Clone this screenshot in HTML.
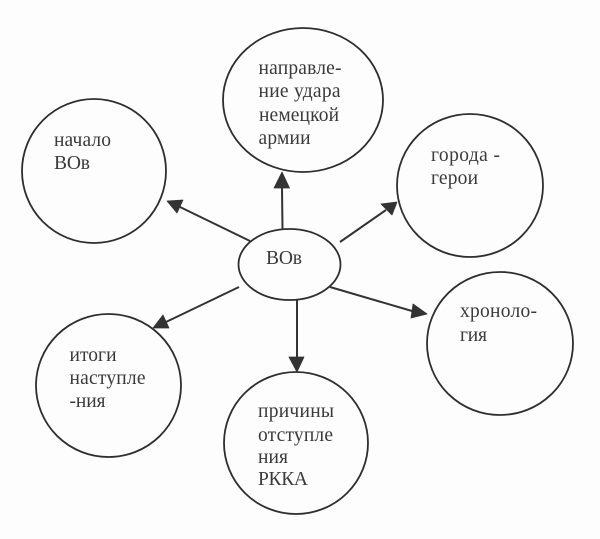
<!DOCTYPE html>
<html lang="ru">
<head>
<meta charset="utf-8">
<title>ВОв</title>
<style>
html,body{margin:0;padding:0;background:#fdfdfd;width:600px;height:539px;overflow:hidden}
svg{display:block;filter:blur(.35px)}
text{font-family:"Liberation Serif","Noto Serif CJK SC",serif;font-size:19.5px;fill:#3a3a3a}
ellipse{fill:none;stroke:#2e2e2e;stroke-width:1.8}
line{stroke:#333;stroke-width:2}
polygon{fill:#333;stroke:#333;stroke-width:.8;stroke-linejoin:round}
</style>
</head>
<body>
<svg width="600" height="539" viewBox="0 0 600 539" xmlns="http://www.w3.org/2000/svg">
<rect width="600" height="539" fill="#fdfdfd"/>
<ellipse cx="303" cy="100" rx="80" ry="72"/>
<ellipse cx="94" cy="171" rx="72" ry="72"/>
<ellipse cx="470" cy="185.5" rx="73" ry="71.5"/>
<ellipse cx="500" cy="343.5" rx="73" ry="71.5"/>
<ellipse cx="108.5" cy="385.5" rx="72.5" ry="71.5"/>
<ellipse cx="296" cy="443" rx="72" ry="71"/>
<ellipse cx="289.5" cy="264.5" rx="51" ry="35.5"/>

<line x1="282.5" y1="229" x2="282" y2="188"/>
<polygon points="282,172 289.5,188 274,188"/>
<line x1="250" y1="241" x2="180" y2="207"/>
<polygon points="167,201 183,200 177,213"/>
<line x1="340" y1="242" x2="386" y2="210"/>
<polygon points="397,202 381,204 392,215"/>
<line x1="330" y1="287" x2="412" y2="311"/>
<polygon points="427,314 413,304 411,318"/>
<line x1="297" y1="300" x2="297" y2="357"/>
<polygon points="297,372 289,357 304,357"/>
<line x1="239" y1="287" x2="166" y2="322"/>
<polygon points="153,328 163,315 169,328"/>

<text x="266" y="264" textLength="36">ВОв</text>

<text x="258.5" y="74" textLength="83">направле-</text>
<text x="258.5" y="97" textLength="82">ние удара</text>
<text x="259" y="121" textLength="80">немецкой</text>
<text x="258.5" y="144" textLength="52">армии</text>

<text x="54" y="146" textLength="57">начало</text>
<text x="54" y="169" textLength="36">ВОв</text>

<text x="431" y="161" textLength="69">города -</text>
<text x="431" y="184" textLength="47">герои</text>

<text x="460" y="317" textLength="77">хроноло-</text>
<text x="460" y="341" textLength="27">гия</text>

<text x="69.5" y="361" textLength="47">итоги</text>
<text x="69.5" y="384" textLength="76">наступле</text>
<text x="69.5" y="407" textLength="36">-ния</text>

<text x="258" y="417" textLength="76">причины</text>
<text x="258" y="441" textLength="75">отступле</text>
<text x="258" y="463" textLength="30">ния</text>
<text x="258" y="485" textLength="50">РККА</text>
</svg>
</body>
</html>
